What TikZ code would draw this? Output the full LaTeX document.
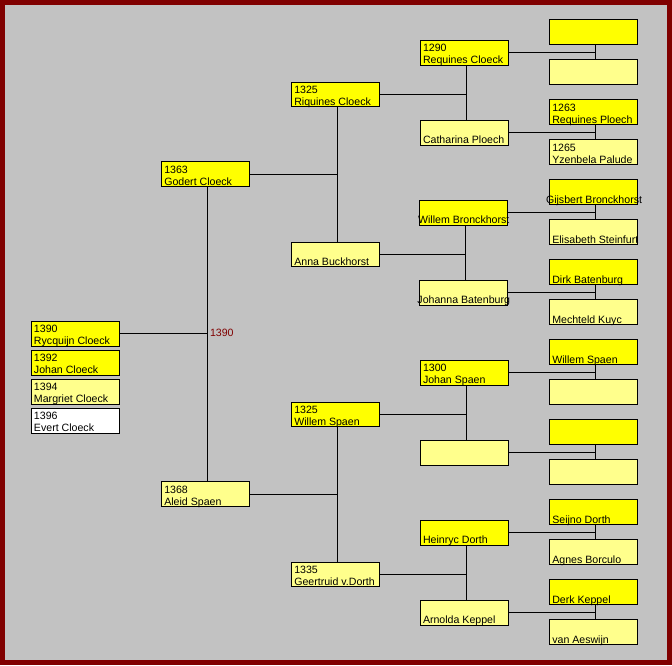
\documentclass[tikz,border=0pt]{standalone}
\usepackage{fontspec}
\setmainfont{Liberation Sans}
\definecolor{framered}{RGB}{128,0,0}
\definecolor{bggray}{RGB}{194,194,194}
\definecolor{yel}{RGB}{255,255,0}
\definecolor{lyel}{RGB}{255,255,140}
\definecolor{wht}{RGB}{255,255,255}
\newcommand\pbox[6]{%
  \node[pbox,fill=#4] (#1) at (#2,#3) {};
  \node[txt,anchor=base west] (#1t1) at ([xshift=2.5pt,yshift=-11.3pt]#1.north west) {#5};
  \node[txt,anchor=base west] (#1t2) at ([xshift=2.5pt,yshift=-23.2pt]#1.north west) {#6};}
\newcommand\pboxc[6]{%
  \node[pbox,fill=#4] (#1) at (#2,#3) {};
  \node[txt,anchor=base west] (#1t1) at ([xshift=2.5pt,yshift=-11.3pt]#1.north west) {#5};
  \node[txt,anchor=base] (#1t2) at ([xshift=0.5pt,yshift=-23.2pt]#1.north) {#6};}
\newcommand\couple[3]{%
  \coordinate (#1v) at ([xshift=2pt]#1.south);
  \draw[conn] (#1v) -- (#1v |- #2.north);
  \draw[conn] (#3.east) -- (#3.east -| #1v);}
\begin{document}
\begin{tikzpicture}[x=1pt,y=-1pt,
  pbox/.style={draw=black,line width=1pt,minimum width=87.5pt,minimum height=24.5pt,inner sep=0pt,outer sep=0pt,anchor=north west},
  txt/.style={inner sep=0pt,outer sep=0pt,font=\fontsize{10.6}{12}\selectfont},
  conn/.style={draw=black,line width=1pt}]
\useasboundingbox (0,0) rectangle (672,665);
\fill[framered] (0,0) rectangle (672,665);
\fill[bggray] (5,5) rectangle (667,660);
% column 5
\pbox{f0}{549.8}{19.8}{yel}{}{}
\pbox{f1}{549.8}{59.8}{lyel}{}{}
\pbox{f2}{549.8}{99.8}{yel}{1263}{Requines Ploech}
\pbox{f3}{549.8}{139.8}{lyel}{1265}{Yzenbela Palude}
\pboxc{f4}{549.8}{179.8}{yel}{}{Gijsbert Bronckhorst}
\pbox{f5}{549.8}{219.8}{lyel}{}{Elisabeth Steinfurt}
\pbox{f6}{549.8}{259.8}{yel}{}{Dirk Batenburg}
\pbox{f7}{549.8}{299.8}{lyel}{}{Mechteld Kuyc}
\pbox{f8}{549.8}{339.8}{yel}{}{Willem Spaen}
\pbox{f9}{549.8}{379.8}{lyel}{}{}
\pbox{f10}{549.8}{419.8}{yel}{}{}
\pbox{f11}{549.8}{459.8}{lyel}{}{}
\pbox{f12}{549.8}{499.8}{yel}{}{Seijno Dorth}
\pbox{f13}{549.8}{539.8}{lyel}{}{Agnes Borculo}
\pbox{f14}{549.8}{579.8}{yel}{}{Derk Keppel}
\pbox{f15}{549.8}{619.8}{lyel}{}{van Aeswijn}
% column 4
\pbox{e0}{420.5}{40.5}{yel}{1290}{Requines Cloeck}
\pbox{e1}{420.5}{120.5}{lyel}{}{Catharina Ploech}
\pboxc{e2}{419.5}{200.5}{yel}{}{Willem Bronckhorst}
\pboxc{e3}{419.5}{280.5}{lyel}{}{Johanna Batenburg}
\pbox{e4}{420.5}{360.5}{yel}{1300}{Johan Spaen}
\pbox{e5}{420.5}{440.5}{lyel}{}{}
\pbox{e6}{420.5}{520.5}{yel}{}{Heinryc Dorth}
\pbox{e7}{420.5}{600.5}{lyel}{}{Arnolda Keppel}
% column 3
\pbox{d0}{291.8}{82}{yel}{1325}{Riquines Cloeck}
\pbox{d1}{291.8}{242}{lyel}{}{Anna Buckhorst}
\pbox{d2}{291.8}{402}{yel}{1325}{Willem Spaen}
\pbox{d3}{291.8}{562}{lyel}{1335}{Geertruid v.Dorth}
% column 2
\pbox{c0}{161.8}{161.8}{yel}{1363}{Godert Cloeck}
\pbox{c1}{161.8}{481.8}{lyel}{1368}{Aleid Spaen}
% column 1
\pbox{b0}{31.5}{321.5}{yel}{1390}{Rycquijn Cloeck}
\pbox{b1}{31.5}{350.5}{yel}{1392}{Johan Cloeck}
\pbox{b2}{31.5}{379.5}{lyel}{1394}{Margriet Cloeck}
\pbox{b3}{31.5}{408.5}{wht}{1396}{Evert Cloeck}
% connectors
\couple{c0}{c1}{b0}
\couple{d0}{d1}{c0}
\couple{d2}{d3}{c1}
\couple{e0}{e1}{d0}
\couple{e2}{e3}{d1}
\couple{e4}{e5}{d2}
\couple{e6}{e7}{d3}
\couple{f0}{f1}{e0}
\couple{f2}{f3}{e1}
\couple{f4}{f5}{e2}
\couple{f6}{f7}{e3}
\couple{f8}{f9}{e4}
\couple{f10}{f11}{e5}
\couple{f12}{f13}{e6}
\couple{f14}{f15}{e7}
\node[txt,anchor=base west,text=framered] (lbl) at ([xshift=2.5pt,yshift=-2.5pt]c0v |- b0.east) {1390};
\end{tikzpicture}
\end{document}
